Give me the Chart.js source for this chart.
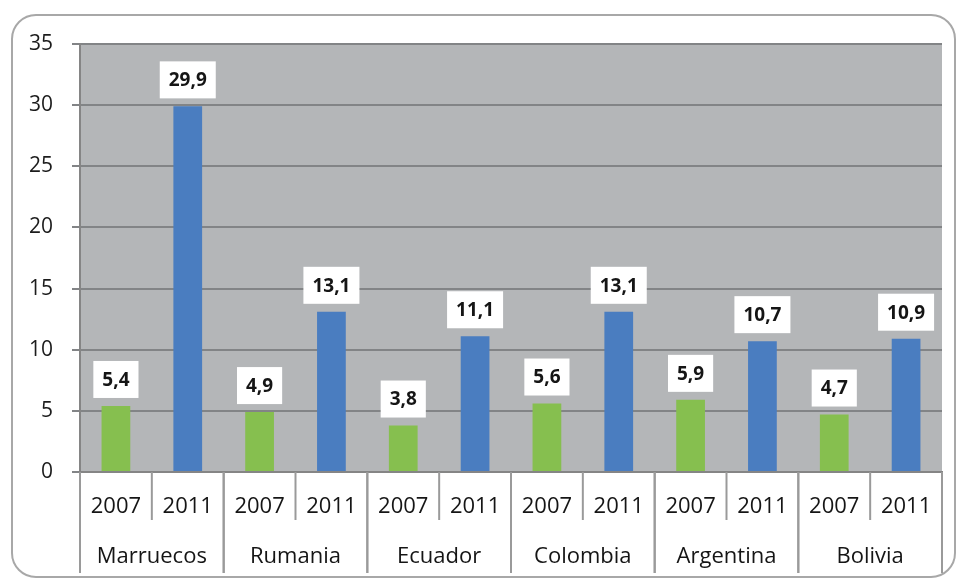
<!DOCTYPE html>
<html>
<head>
<meta charset="utf-8">
<script src="https://cdn.jsdelivr.net/npm/chart.js@4.4.0/dist/chart.umd.min.js"></script>
<style>
  html, body { margin: 0; padding: 0; background: #fff; }
  #wrap { width: 959px; height: 581px; }
</style>
</head>
<body>
<div id="wrap"><canvas id="migrChart"></canvas></div>
<script>
// Chart values
const countries = ['Marruecos', 'Rumania', 'Ecuador', 'Colombia', 'Argentina', 'Bolivia'];
const years = ['2007', '2011'];
const values2007 = [5.4, 4.9, 3.8, 5.6, 5.9, 4.7];
const values2011 = [29.9, 13.1, 11.1, 13.1, 10.7, 10.9];
const yTicks = [0, 5, 10, 15, 20, 25, 30, 35];

const yearColors = ['#86bf4f', '#4a7dc0'];
const fontFamily = '"Open Sans", "Noto Sans", sans-serif';

// one bar per country/year pair
const labels = countries.flatMap(() => years);
const values = countries.flatMap((c, i) => [values2007[i], values2011[i]]);
const colors = countries.flatMap(() => yearColors);

function fmt(v) {
    return v.toFixed(1).replace('.', ',');
}

// background, value boxes and the two-level category axis
const decorPlugin = {
    id: 'decor',
    beforeDraw(chart) {
        const ctx = chart.ctx;
        const a = chart.chartArea;
        ctx.save();
        // outer rounded frame
        ctx.strokeStyle = '#a8a8a8';
        ctx.lineWidth = 2;
        ctx.beginPath();
        ctx.roundRect(12, 15, 943, 562, 24);
        ctx.stroke();
        // plot area fill
        ctx.fillStyle = '#b4b6b8';
        ctx.fillRect(a.left, a.top, a.right - a.left, a.bottom - a.top);
        ctx.restore();
    },
    afterDatasetsDraw(chart) {
        const ctx = chart.ctx;
        const meta = chart.getDatasetMeta(0);
        ctx.save();
        ctx.font = 'bold 19px ' + fontFamily;
        ctx.textAlign = 'center';
        ctx.textBaseline = 'middle';
        meta.data.forEach((bar, i) => {
            const txt = fmt(values[i]);
            const w = ctx.measureText(txt).width + 18;
            const h = 37;
            const bottom = bar.y - 8;
            ctx.fillStyle = '#ffffff';
            ctx.fillRect(bar.x - w / 2, bottom - h, w, h);
            ctx.fillStyle = '#151515';
            ctx.fillText(txt, bar.x, bottom - h / 2 + 1);
        });
        ctx.restore();
    },
    afterDraw(chart) {
        const ctx = chart.ctx;
        const x = chart.scales.x;
        const a = chart.chartArea;
        const step = x.getPixelForValue(1) - x.getPixelForValue(0);
        ctx.save();
        ctx.strokeStyle = '#9a9a9a';
        ctx.lineWidth = 2;
        ctx.fillStyle = '#151515';
        ctx.textAlign = 'center';
        ctx.textBaseline = 'middle';
        // year labels and dividers
        ctx.font = '22px ' + fontFamily;
        labels.forEach((lab, i) => {
            const cx = x.getPixelForValue(i);
            ctx.fillText(lab, cx, a.bottom + 35);
            if (i % 2 === 1) {
                const dx = cx - step / 2;
                ctx.beginPath();
                ctx.moveTo(dx, a.bottom);
                ctx.lineTo(dx, a.bottom + 48);
                ctx.stroke();
            }
        });
        // country labels and group dividers
        countries.forEach((c, g) => {
            const x0 = x.getPixelForValue(g * 2) - step / 2;
            const x1 = x.getPixelForValue(g * 2 + 1) + step / 2;
            ctx.fillText(c, (x0 + x1) / 2, a.bottom + 85);
            [x0, x1].forEach(dx => {
                ctx.beginPath();
                ctx.moveTo(dx, a.bottom);
                ctx.lineTo(dx, a.bottom + 101);
                ctx.stroke();
            });
        });
        ctx.restore();
    }
};

function createMigrChart() {
    const ctx = document.getElementById('migrChart').getContext('2d');

    const config = {
        type: 'bar',
        data: {
            labels: labels,
            datasets: [{
                data: values,
                backgroundColor: colors,
                barPercentage: 0.4,
                categoryPercentage: 1.0
            }]
        },
        options: {
            responsive: true,
            maintainAspectRatio: false,
            animation: false,
            layout: {
                padding: { top: 44, right: 17, bottom: 0, left: 0 }
            },
            scales: {
                x: {
                    grid: { display: false },
                    ticks: { display: false },
                    border: { display: true, color: '#858585', width: 2 },
                    afterFit(scale) { scale.height = 109; }
                },
                y: {
                    min: yTicks[0],
                    max: yTicks[yTicks.length - 1],
                    afterBuildTicks(scale) {
                        scale.ticks = yTicks.map(v => ({ value: v }));
                    },
                    grid: {
                        color: '#828486',
                        lineWidth: 2,
                        tickLength: 8
                    },
                    border: { color: '#858585', width: 2 },
                    ticks: {
                        color: '#1c1c1c',
                        padding: 19,
                        font: { family: fontFamily, size: 21 }
                    },
                    afterFit(scale) { scale.width = 80; }
                }
            },
            plugins: {
                legend: { display: false },
                tooltip: { enabled: false }
            }
        },
        plugins: [decorPlugin]
    };

    return new Chart(ctx, config);
}

document.addEventListener('DOMContentLoaded', () => {
    createMigrChart();
});
</script>
</body>
</html>
